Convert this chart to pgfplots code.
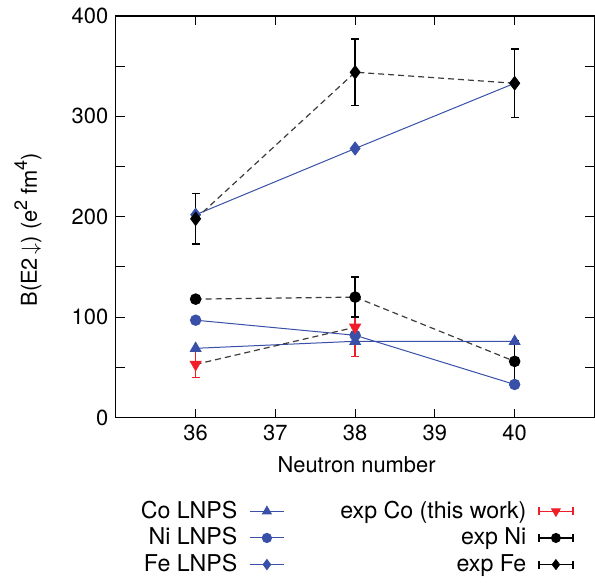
\documentclass[border=0pt,11pt]{standalone}
\usepackage{fontspec}
\setmainfont{TeX Gyre Heros}
\usepackage{pgfplots}
\pgfplotsset{compat=1.18}
\usetikzlibrary{calc}
\definecolor{lnps}{RGB}{56,80,168}
\definecolor{expred}{RGB}{240,30,40}
\definecolor{dashgray}{RGB}{60,60,60}
\begin{document}
\begin{tikzpicture}
\begin{axis}[name=ax, scale only axis, width=239.5pt, height=201pt,
  xmin=35, xmax=41, ymin=0, ymax=400,
  xtick={36,37,38,39,40}, ytick={0,100,200,300,400},
  minor ytick={50,150,250,350},
  tick align=inside, major tick length=4.5pt, minor tick length=4.5pt,
  tick style={black, line width=0.5pt},
  axis line style={line width=0.6pt},
  /pgf/number format/assume math mode=true,
  xlabel={Neutron number},
  ylabel={B(E2\,$\downarrow$) (e\raisebox{0.85ex}{\footnotesize 2} fm\raisebox{0.85ex}{\footnotesize 4})},
  every axis x label/.style={at={(rel axis cs:0.503,-0.117)}, anchor=center},
  every axis y label/.style={at={(rel axis cs:-0.184,0.468)}, rotate=90, anchor=center},
  legend style={at={(0.50,-0.187)}, anchor=north, draw=none, fill=none,
    legend columns=2, row sep=-1.0pt, font=\fontsize{11.6}{13.6}\selectfont,
    /tikz/every odd column/.append style={column sep=4pt},
    /tikz/every even column/.append style={column sep=26pt}},
  legend plot pos=right, legend cell align=right,
]
% LNPS theory
\addplot[lnps, line width=0.5pt, mark=triangle*, mark size=3pt, forget plot]
  coordinates {(36,69) (38,76) (40,76)};
\addplot[lnps, line width=0.5pt, mark=*, mark size=2.6pt, forget plot]
  coordinates {(36,97) (38,82) (40,33)};
\addplot[lnps, line width=0.5pt, mark=diamond*, mark size=3.2pt, forget plot]
  coordinates {(36,202) (38,268) (40,333)};
% experiment
\addplot[dashgray, dash pattern=on 3pt off 2pt, line width=0.6pt, mark=triangle*, forget plot,
  mark options={solid, fill=expred, draw=expred, rotate=180}, mark size=3pt,
  error bars/.cd, y dir=both, y explicit,
  error bar style={expred, solid, line width=0.7pt},
  error mark options={rotate=90, expred, solid, mark size=2pt, line width=0.7pt}]
  coordinates {(36,53) +- (0,13) (38,90) +- (0,29)};
\addplot[dashgray, dash pattern=on 3pt off 2pt, line width=0.6pt, mark=*, forget plot,
  mark options={solid, fill=black, draw=black}, mark size=2.6pt,
  error bars/.cd, y dir=both, y explicit,
  error bar style={black, solid, line width=0.7pt},
  error mark options={rotate=90, black, solid, mark size=2pt, line width=0.7pt}]
  coordinates {(36,118) +- (0,0) (38,120) +- (0,20) (40,56) +- (0,21)};
\addplot[dashgray, dash pattern=on 3pt off 2pt, line width=0.6pt, mark=diamond*, forget plot,
  mark options={solid, fill=black, draw=black}, mark size=3.2pt,
  error bars/.cd, y dir=both, y explicit,
  error bar style={black, solid, line width=0.7pt},
  error mark options={rotate=90, black, solid, mark size=2pt, line width=0.7pt}]
  coordinates {(36,198) +- (0,25) (38,344) +- (0,33) (40,333) +- (0,34)};
% legend
\addlegendimage{lnps, line width=0.5pt, mark=triangle*, mark size=2.5pt}
\addlegendentry{Co LNPS}
\addlegendimage{legend image code/.code={
  \draw[expred, line width=0.6pt] (0pt,0pt)--(17pt,0pt) (0pt,-2pt)--(0pt,2pt) (17pt,-2pt)--(17pt,2pt);
  \draw[expred, mark=triangle*, mark options={rotate=180}, mark size=2.5pt] plot coordinates {(8.5pt,0pt)};}}
\addlegendentry{exp Co (this work)}
\addlegendimage{lnps, line width=0.5pt, mark=*, mark size=2.3pt}
\addlegendentry{Ni LNPS}
\addlegendimage{legend image code/.code={
  \draw[black, line width=0.6pt] (0pt,0pt)--(17pt,0pt) (0pt,-2pt)--(0pt,2pt) (17pt,-2pt)--(17pt,2pt);
  \draw[black, mark=*, mark size=2.3pt] plot coordinates {(8.5pt,0pt)};}}
\addlegendentry{exp Ni}
\addlegendimage{lnps, line width=0.5pt, mark=diamond*, mark size=2.5pt}
\addlegendentry{Fe LNPS}
\addlegendimage{legend image code/.code={
  \draw[black, line width=0.6pt] (0pt,0pt)--(17pt,0pt) (0pt,-2pt)--(0pt,2pt) (17pt,-2pt)--(17pt,2pt);
  \draw[black, mark=diamond*, mark size=2.5pt] plot coordinates {(8.5pt,0pt)};}}
\addlegendentry{exp Fe}
\end{axis}
\path[use as bounding box] ($(ax.south west)+(-58pt,-81pt)$) rectangle ++(297.5pt,290pt);
\end{tikzpicture}
\end{document}
